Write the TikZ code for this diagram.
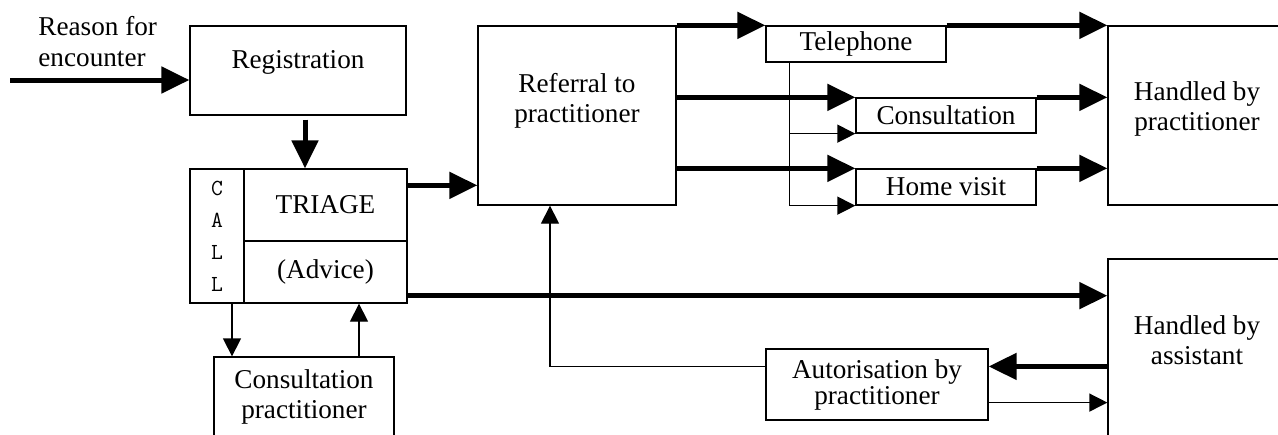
\documentclass[tikz,border=0pt]{standalone}
\usepackage{fontspec}
\setmainfont{Liberation Serif}
\usetikzlibrary{arrows.meta,calc,positioning}

\begin{document}
\begin{tikzpicture}[x=0.5pt,y=-0.5pt,
		box/.style={draw, line width=0.65pt, inner sep=0pt, align=center, font=\fontsize{13.6pt}{15pt}\selectfont},
		txt/.style={inner sep=0pt, align=center, font=\fontsize{13.6pt}{15pt}\selectfont},
		big/.style={line width=2.5pt, -{Triangle[length=14pt,width=13pt]}},
		small/.style={line width=0.65pt, -{Triangle[length=9pt,width=9pt]}}]
		\useasboundingbox (0,0) rectangle (1278,434);
		\clip (0,0) rectangle (1278,434);
		% left column
		\node[txt, align=left, anchor=north west, font=\fontsize{13.6pt}{15.5pt}\selectfont] (reason) at (38,16) {Reason for\\encounter};
		\coordinate (in) at (10,80);
		\node[box, minimum width=108pt, minimum height=44.5pt] (reg) at (298,70.5) {};
		\node[txt, anchor=base] (regtext) at (298,68) {Registration};
		\node[box, minimum width=27pt, minimum height=67pt, font=\ttfamily\fontsize{11.5pt}{16pt}\selectfont] (call) at (217,236) {C\\A\\L\\L};
		\node[box, minimum width=81.5pt, minimum height=36pt] (triage) at (325.5,205) {TRIAGE};
		\node[box, minimum width=81.5pt, minimum height=31pt] (advice) at (325.5,272) {(Advice)};
		\node[box, minimum width=90pt, minimum height=51.5pt] (cpract) at (304,408.5) {};
		\node[txt, anchor=north] (cpracttext) at (304,369.4) {Consultation\\practitioner};
		% middle
		\node[box, minimum width=99pt, minimum height=89.5pt] (ref) at (577,115.5) {};
		\node[txt, anchor=north] (reftext) at (577,73) {Referral to\\practitioner};
		\node[box, minimum width=90pt, minimum height=18pt] (tel) at (856,44) {Telephone};
		\node[box, minimum width=90pt, minimum height=17.5pt] (cons) at (946,115.5) {Consultation};
		\node[box, minimum width=90pt, minimum height=18pt] (home) at (946,187) {Home visit};
		\node[box, minimum width=111pt, minimum height=35.5pt, font=\fontsize{13.6pt}{13pt}\selectfont] (auth) at (877,384.5) {Autorisation by\\practitioner};
		% right column
		\node[box, minimum width=89pt, minimum height=89.5pt] (prac) at (1197,115.5) {};
		\node[txt, anchor=north] (practext) at (1197,81.4) {Handled by\\practitioner};
		\node[box, minimum width=89pt, minimum height=100.5pt] (assist) at (1197,359.5) {};
		\node[txt, anchor=north] (assisttext) at (1197,315.5) {Handled by\\assistant};

		\draw[big] (in) -- (in -| reg.west);
		\coordinate (r1) at ($(reg.south)+(7,4)$);
		\draw[big] (r1) -- (r1 |- triage.north);
		\coordinate (t1) at ($(triage.north east)+(0,17)$);
		\draw[big] (t1) -- (t1 -| ref.west);
		\coordinate (a0) at ($(advice.south east)+(0,-8)$);
		\draw[big] (a0) -- (a0 -| assist.west);
		\coordinate (c1) at ($(call.south)+(15,0)$);
		\draw[small] (c1) -- (c1 |- cpract.north);
		\coordinate (c2) at ($(cpract.north)+(55,0)$);
		\draw[small] (c2) -- (c2 |- advice.south);

		\draw[big] (ref.north east) -- (tel.north west);
		\draw[big] (tel.north east) -- (tel.north east -| prac.west);
		\draw[big] (cons.north west -| ref.east) -- (cons.north west);
		\draw[big] (cons.north east) -- (cons.north east -| prac.west);
		\draw[big] (home.north west -| ref.east) -- (home.north west);
		\draw[big] (home.north east) -- (home.north east -| prac.west);
		\coordinate (s) at ($(tel.south west)+(24,0)$);
		\draw[small] (s) |- (cons.south west);
		\draw[small] (s) |- (home.south west);

		\coordinate (u1) at ($(auth.north west)!.25!(auth.south west)$);
		\coordinate (u2) at ($(ref.south)+(-27,0)$);
		\draw[small] (u1) -| (u2);
		\coordinate (u3) at ($(auth.north east)!.25!(auth.south east)$);
		\draw[big] (u3 -| assist.west) -- (u3);
		\coordinate (u4) at ($(auth.north east)!.75!(auth.south east)$);
		\draw[small] (u4) -- (u4 -| assist.west);
	\end{tikzpicture}
\end{document}
